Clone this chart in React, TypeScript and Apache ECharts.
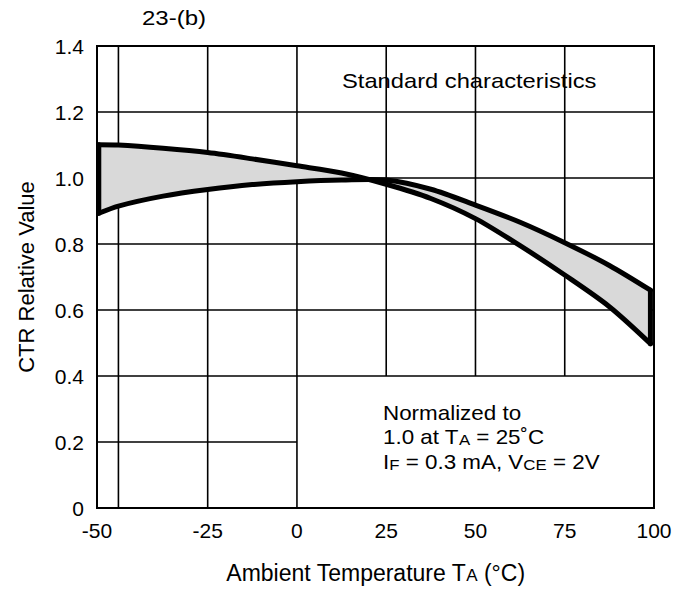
import React, { useEffect, useRef } from "react";
import * as echarts from "echarts";

// ---- data ----
const X_MIN = -56;
const X_MAX = 100;
const X_TICK_VALUES = [-50, -25, 0, 25, 50, 75, 100];
const X_TICK_LABELS = ["-50", "-25", "0", "25", "50", "75", "100"];
const Y_TICK_VALUES = [0, 0.2, 0.4, 0.6, 0.8, 1.0, 1.2, 1.4];
const Y_TICK_LABELS = ["0", "0.2", "0.4", "0.6", "0.8", "1.0", "1.2", "1.4"];

const TEMP = [-55.5, -50, -37.5, -25, -12.5, 0, 12.5, 25, 37.5, 50, 62.5, 75, 87.5, 99];
const CURVE_A = [1.101, 1.1, 1.09, 1.077, 1.058, 1.037, 1.015, 0.981, 0.938, 0.877, 0.795, 0.706, 0.61, 0.498];
const CURVE_B = [0.893, 0.915, 0.945, 0.965, 0.98, 0.989, 0.994, 0.994, 0.966, 0.918, 0.866, 0.804, 0.735, 0.66];

// annotation box (no grid lines inside): x from BOX_X0, y up to BOX_Y1
const BOX_X0 = 0;
const BOX_Y1 = 0.4;

const FONT = "'Liberation Sans', Arial, Helvetica, sans-serif";

export default function App() {
  const ref = useRef<HTMLDivElement>(null);

  useEffect(() => {
    if (!ref.current) return;
    const chart = echarts.init(ref.current, null, { renderer: "svg" });

    const gridX = X_TICK_VALUES.filter((v) => v > X_MIN && v < X_MAX);
    const gridY = Y_TICK_VALUES.filter((v) => v > 0 && v < 1.4);
    const GRID_LINE = { stroke: "#000", lineWidth: 1.6 };
    const CURVE_W = 5;
    const CURVE_STYLE = { fill: null, stroke: "#000", lineWidth: CURVE_W, lineCap: "round", lineJoin: "round" };

    const option: any = {
      animation: false,
      grid: {
        left: 97,
        right: 40,
        top: 46,
        bottom: 82,
        show: true,
        borderColor: "#000",
        borderWidth: 2,
        backgroundColor: "transparent",
      },
      xAxis: {
        type: "value",
        min: X_MIN,
        max: X_MAX,
        axisLine: { show: false },
        axisTick: { show: false },
        splitLine: { show: false },
        axisLabel: {
          customValues: [X_MIN, ...X_TICK_VALUES.slice(1)],
          formatter: (v: number) => {
            if (v === X_MIN) return X_TICK_LABELS[0];
            const i = X_TICK_VALUES.indexOf(v);
            return i >= 0 ? X_TICK_LABELS[i] : "";
          },
          showMinLabel: true,
          showMaxLabel: true,
          hideOverlap: false,
          color: "#000",
          fontSize: 21,
          fontFamily: FONT,
          margin: 12,
        },
        name: "Ambient Temperature T{s|A} (°C)",
        nameLocation: "middle",
        nameGap: 53,
        nameTextStyle: {
          color: "#000",
          fontSize: 23,
          fontFamily: FONT,
          rich: { s: { fontSize: 17, fontFamily: FONT, color: "#000", verticalAlign: "bottom" } },
        },
      },
      yAxis: {
        type: "value",
        min: 0,
        max: 1.4,
        interval: 0.2,
        axisLine: { show: false },
        axisTick: { show: false },
        splitLine: { show: false },
        axisLabel: {
          formatter: (v: number) => {
            const i = Y_TICK_VALUES.findIndex((t) => Math.abs(t - v) < 1e-6);
            return i >= 0 ? Y_TICK_LABELS[i] : "";
          },
          color: "#000",
          fontSize: 21,
          fontFamily: FONT,
          margin: 13,
        },
        name: "CTR Relative Value",
        nameLocation: "middle",
        nameGap: 60,
        nameTextStyle: { color: "#000", fontSize: 22, fontFamily: FONT },
      },
      series: [
        {
          type: "custom",
          z: 1,
          silent: true,
          data: [[0, 0]],
          renderItem: (params: any, api: any) => {
            const children: any[] = [];
            gridX.forEach((x) => {
              const y0 = x > BOX_X0 ? BOX_Y1 : 0;
              const p1 = api.coord([x, y0]);
              const p2 = api.coord([x, 1.4]);
              children.push({
                type: "line",
                shape: { x1: p1[0], y1: p1[1], x2: p2[0], y2: p2[1] },
                style: GRID_LINE,
              });
            });
            gridY.forEach((y) => {
              const x1 = y < BOX_Y1 ? BOX_X0 : X_MAX;
              const p1 = api.coord([X_MIN, y]);
              const p2 = api.coord([x1, y]);
              children.push({
                type: "line",
                shape: { x1: p1[0], y1: p1[1], x2: p2[0], y2: p2[1] },
                style: GRID_LINE,
              });
            });
            return { type: "group", children };
          },
        },
        {
          type: "custom",
          z: 3,
          silent: true,
          data: [[0, 0]],
          renderItem: (params: any, api: any) => {
            const upper = TEMP.map((t, i) => api.coord([t, CURVE_A[i]]));
            const lowerFwd = TEMP.map((t, i) => api.coord([t, CURVE_B[i]]));
            const lower = lowerFwd.slice().reverse();
            const n = TEMP.length - 1;
            return {
              type: "group",
              children: [
                {
                  type: "polygon",
                  shape: { points: [...upper, ...lower] },
                  style: { fill: "#d9d9d9", stroke: null },
                },
                {
                  type: "polyline",
                  shape: { points: upper, smooth: 0.3 },
                  style: CURVE_STYLE,
                },
                {
                  type: "polyline",
                  shape: { points: lowerFwd, smooth: 0.3 },
                  style: CURVE_STYLE,
                },
                {
                  type: "line",
                  shape: { x1: upper[0][0], y1: upper[0][1], x2: lowerFwd[0][0], y2: lowerFwd[0][1] },
                  style: CURVE_STYLE,
                },
                {
                  type: "line",
                  shape: { x1: upper[n][0], y1: upper[n][1], x2: lowerFwd[n][0], y2: lowerFwd[n][1] },
                  style: CURVE_STYLE,
                },
              ],
            };
          },
        },
      ],
      graphic: [
        {
          type: "text",
          x: 142,
          y: 18,
          scaleX: 1.2,
          style: { text: "23-(b)", font: `20px ${FONT}`, fill: "#000", verticalAlign: "middle", align: "left" },
        },
        {
          type: "text",
          x: 342,
          y: 81,
          scaleX: 1.13,
          z: 10,
          style: { text: "Standard characteristics", font: `21px ${FONT}`, fill: "#000", verticalAlign: "middle", align: "left" },
        },
        {
          type: "text",
          x: 383,
          y: 413,
          scaleX: 1.12,
          style: { text: "Normalized to", font: `20px ${FONT}`, fill: "#000", verticalAlign: "middle", align: "left" },
        },
        {
          type: "text",
          x: 383,
          y: 437,
          scaleX: 1.12,
          style: {
            text: "1.0 at T{s|A} = 25˚C",
            font: `20px ${FONT}`,
            fill: "#000",
            verticalAlign: "middle",
            align: "left",
            rich: { s: { fontSize: 15, fontFamily: FONT, fill: "#000", verticalAlign: "bottom" } },
          },
        },
        {
          type: "text",
          x: 383,
          y: 462,
          scaleX: 1.12,
          style: {
            text: "I{s|F} = 0.3 mA, V{s|CE} = 2V",
            font: `20px ${FONT}`,
            fill: "#000",
            verticalAlign: "middle",
            align: "left",
            rich: { s: { fontSize: 15, fontFamily: FONT, fill: "#000", verticalAlign: "bottom" } },
          },
        },
      ],
    };

    chart.setOption(option);
    return () => chart.dispose();
  }, []);

  return (
    <div
      ref={ref}
      style={{ position: "fixed", left: 0, top: 0, width: 694, height: 590, background: "#fff" }}
    />
  );
}
